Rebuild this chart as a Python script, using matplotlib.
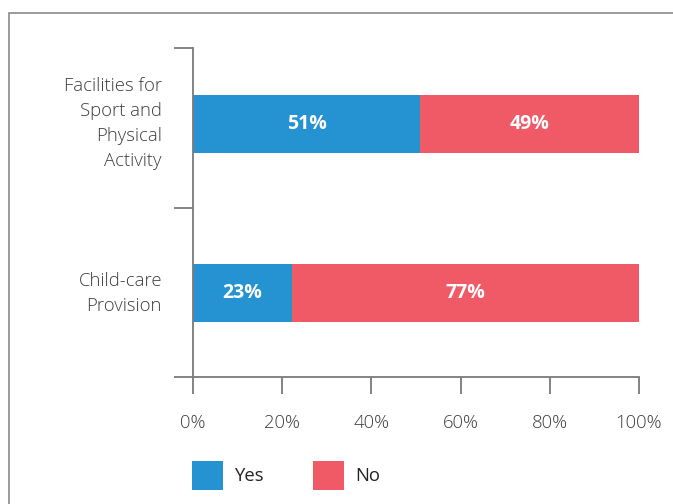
import matplotlib.pyplot as plt
from matplotlib.patches import Rectangle

# data
categories = ['Facilities for\nSport and\nPhysical\nActivity', 'Child-care\nProvision']
yes_values = [50.9, 22.2]
no_values = [49.1, 77.8]
yes_labels = ['51%', '23%']
no_labels = ['49%', '77%']
x_ticks = [0, 20, 40, 60, 80, 100]
x_tick_labels = ['0%', '20%', '40%', '60%', '80%', '100%']

blue = '#2593d2'
red = '#f05a67'
grey = '#7a7a7a'
text_col = '#3c3c3c'

plt.rcParams['font.family'] = ['Open Sans', 'DejaVu Sans']

W, H = 673, 504
fig = plt.figure(figsize=(W / 100, H / 100), dpi=100)
ax = fig.add_axes([193 / W, (H - 377) / H, (639 - 193) / W, (377 - 48) / H])

# bar centres and category boundaries, in axis units (measured)
ypos = [1.54, 0.51]
bar_h = 0.353

b_yes = ax.barh(ypos, yes_values, height=bar_h, color=blue, label='Yes')
b_no = ax.barh(ypos, no_values, left=yes_values, height=bar_h, color=red, label='No')

for i in range(len(categories)):
    ax.text(yes_values[i] / 2, ypos[i], yes_labels[i], ha='center', va='center',
            color='white', fontsize=14, fontweight='bold')
    ax.text(yes_values[i] + no_values[i] / 2, ypos[i], no_labels[i], ha='center',
            va='center', color='white', fontsize=14, fontweight='bold')
    ax.text(-31 / 4.46, ypos[i], categories[i], ha='right', va='center',
            color=text_col, fontsize=13.3, fontweight='light', linespacing=1.5)

ax.set_xlim(0, 100)
ax.set_ylim(0, 2)
ax.set_xticks(x_ticks)
ax.set_xticklabels(x_tick_labels, fontsize=13.3, color=text_col, fontweight='light')
ax.set_yticks([0, 1.03, 2])
ax.set_yticklabels([])

for s in ['top', 'right']:
    ax.spines[s].set_visible(False)
for s in ['left', 'bottom']:
    ax.spines[s].set_color(grey)
    ax.spines[s].set_linewidth(1.3)
ax.tick_params(axis='x', length=12, width=1.3, color=grey, pad=15)
ax.tick_params(axis='y', length=13.5, width=1.3, color=grey)

fig.legend(handles=[b_yes, b_no], labels=['Yes', 'No'], loc='upper left',
           bbox_to_anchor=(192 / W, (H - 461) / H), ncol=2, frameon=False,
           fontsize=13.3, handlelength=1.7, handleheight=2.05, handletextpad=0.6,
           columnspacing=2.62, borderpad=0, borderaxespad=0, labelcolor='#222222')

# grey frame around the panel (left and top edges visible)
fig.add_artist(Rectangle((9 / W, -0.2), 2, (H - 13) / H + 0.2, transform=fig.transFigure,
                         fill=False, edgecolor='#8a8a8a', linewidth=1.2))

fig.savefig('out.png', dpi=100)
